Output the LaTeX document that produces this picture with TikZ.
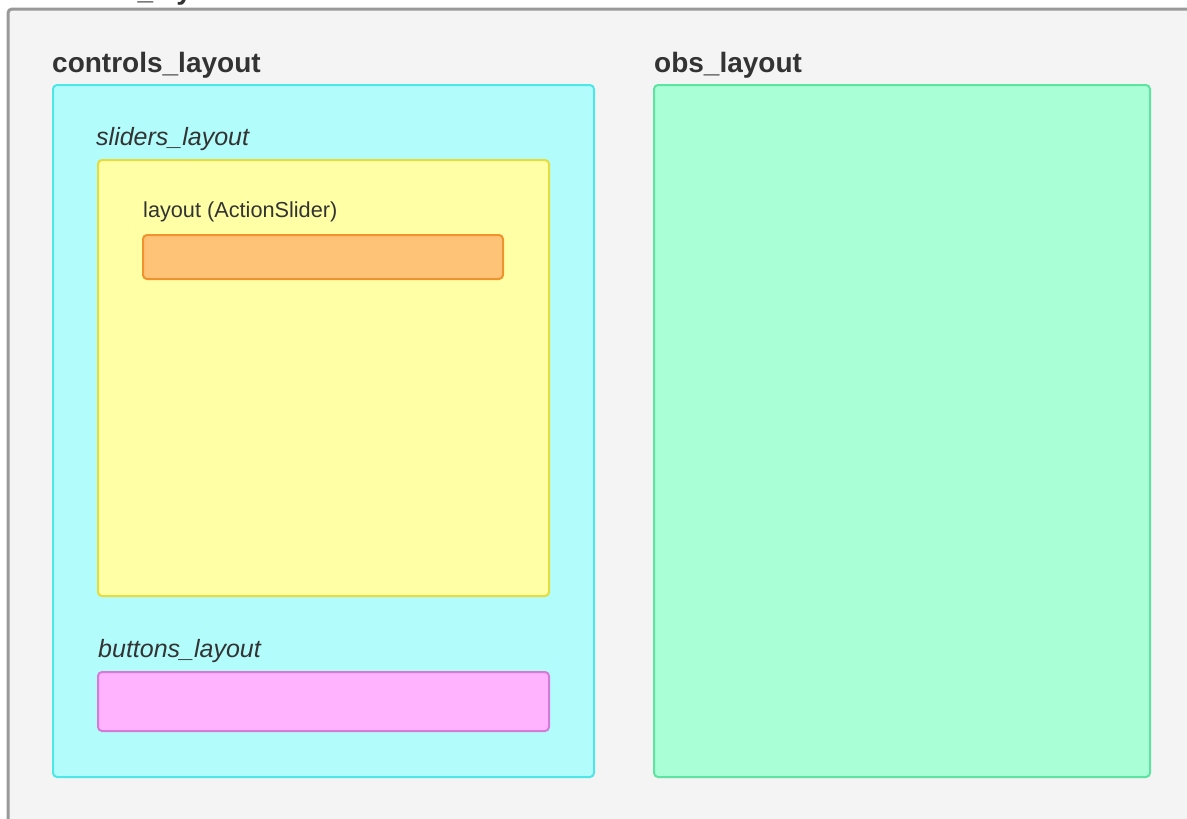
\documentclass[tikz,border=0pt]{standalone}
\usepackage{fontspec}
\setmainfont{Liberation Sans}
\definecolor{bgfill}{HTML}{F4F4F4}
\definecolor{bgline}{HTML}{999999}
\definecolor{txt}{HTML}{333333}
\definecolor{cyanfill}{HTML}{B3FCFC}
\definecolor{cyanline}{HTML}{4EE6E6}
\definecolor{greenfill}{HTML}{A9FFD6}
\definecolor{greenline}{HTML}{5FE3A0}
\definecolor{yelfill}{HTML}{FFFFA6}
\definecolor{yelline}{HTML}{E6DC3C}
\definecolor{orfill}{HTML}{FFC378}
\definecolor{orline}{HTML}{F0922E}
\definecolor{pkfill}{HTML}{FFB3FF}
\definecolor{pkline}{HTML}{D67AD6}
\tikzset{
  x=1pt,y=-1pt,
  panel/.style={draw, rounded corners=4pt, line width=2pt, inner sep=0pt, anchor=north west},
  boldlbl/.style={anchor=base west, inner sep=0pt, text=txt, font=\fontsize{28}{32}\selectfont\bfseries},
  itlbl/.style={anchor=base west, inner sep=0pt, text=txt, font=\fontsize{25}{29}\selectfont\itshape},
  reglbl/.style={anchor=base west, inner sep=0pt, text=txt, font=\fontsize{21.7}{26}\selectfont},
}
\begin{document}
\begin{tikzpicture}
\useasboundingbox (0,0) rectangle (1187,819);
\clip (0,0) rectangle (1187,819);
\fill[white] (0,0) rectangle (1187,819);
\node[panel, draw=bgline, fill=bgfill, line width=3pt, minimum width=1200pt, minimum height=830pt] (main) at (6.5,7.5) {};
\node[boldlbl] (maint) at (72,-1) {main\_layout};
\node[boldlbl] (ctlt) at (52,72) {controls\_layout};
\node[boldlbl] (obst) at (654,72) {obs\_layout};
\node[panel, draw=cyanline, fill=cyanfill, minimum width=541pt, minimum height=692pt] (ctl) at (52,84) {};
\node[panel, draw=greenline, fill=greenfill, minimum width=496pt, minimum height=692pt] (obs) at (653,84) {};
\node[itlbl] (slt) at (96,145) {sliders\_layout};
\node[panel, draw=yelline, fill=yelfill, minimum width=451pt, minimum height=436pt] (sl) at (97,159) {};
\node[reglbl] (act) at (143,217) {layout (ActionSlider)};
\node[panel, draw=orline, fill=orfill, minimum width=360pt, minimum height=44pt] (as) at (142,234) {};
\node[itlbl] (btt) at (98,657) {buttons\_layout};
\node[panel, draw=pkline, fill=pkfill, minimum width=451pt, minimum height=59pt] (bt) at (97,671) {};
\end{tikzpicture}
\end{document}
